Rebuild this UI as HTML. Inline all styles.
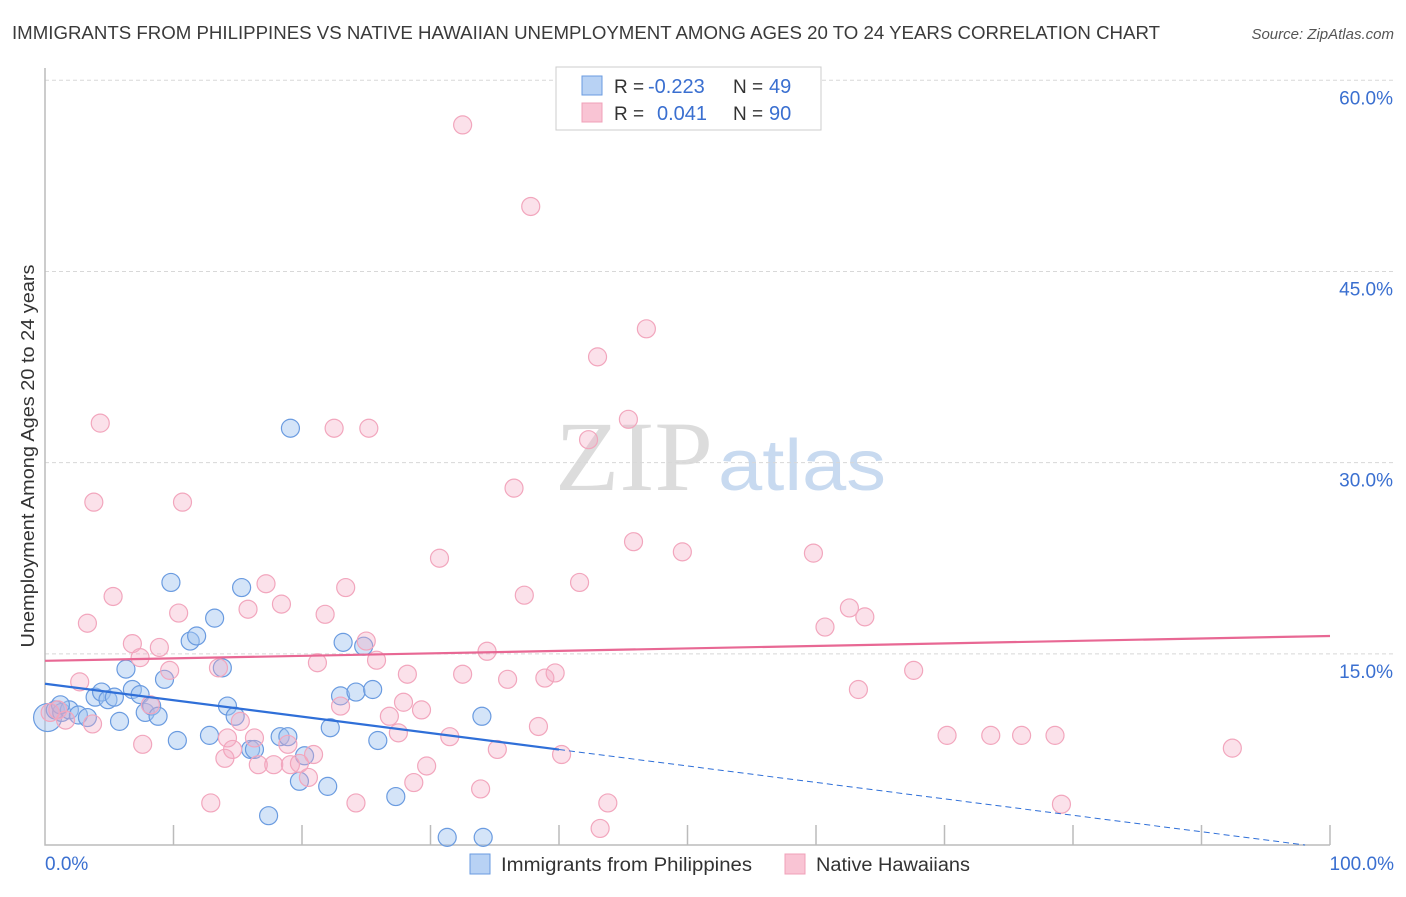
<!DOCTYPE html>
<html><head><meta charset="utf-8"><style>
body{margin:0;background:#fff;font-family:"Liberation Sans",sans-serif;}
svg text{font-family:"Liberation Sans",sans-serif;}
</style></head><body>
<svg id="chart" width="1406" height="892" xmlns="http://www.w3.org/2000/svg">
<text x="12" y="39" font-size="18" fill="#3a3a3a" textLength="1148" lengthAdjust="spacingAndGlyphs">IMMIGRANTS FROM PHILIPPINES VS NATIVE HAWAIIAN UNEMPLOYMENT AMONG AGES 20 TO 24 YEARS CORRELATION CHART</text>
<text x="1394" y="39" font-size="15" fill="#555" text-anchor="end" font-style="italic">Source: ZipAtlas.com</text>
<g>
<text x="555" y="490" font-size="100" fill="#dcdcdc" style="font-family:'Liberation Serif',serif" textLength="158" lengthAdjust="spacingAndGlyphs">ZIP</text>
<text x="718" y="490" font-size="72" fill="#c8daf0" textLength="168" lengthAdjust="spacingAndGlyphs">atlas</text>
</g>
<g id="grid"></g>
<g id="axes"></g>
<g id="pts"></g>
<g id="trend"></g>
<text transform="translate(34,456) rotate(-90)" font-size="18" fill="#333" text-anchor="middle" textLength="383" lengthAdjust="spacingAndGlyphs">Unemployment Among Ages 20 to 24 years</text>
<g>
<rect x="556" y="67" width="265" height="63" fill="#fff" stroke="#ccc"/>
<rect x="582" y="76" width="20" height="19" fill="#b8d2f4" stroke="#6a9be0"/>
<rect x="582" y="103" width="20" height="19" fill="#f9c4d4" stroke="#f0a0b8"/>
<text x="614" y="93" font-size="19" fill="#333">R =</text>
<text x="648" y="93" font-size="20" fill="#3a6fd0">-0.223</text>
<text x="733" y="93" font-size="19" fill="#333">N =</text>
<text x="769" y="93" font-size="20" fill="#3a6fd0">49</text>
<text x="614" y="120" font-size="19" fill="#333">R =</text>
<text x="657" y="120" font-size="20" fill="#3a6fd0">0.041</text>
<text x="733" y="120" font-size="19" fill="#333">N =</text>
<text x="769" y="120" font-size="20" fill="#3a6fd0">90</text>
</g>
<g>
<rect x="470" y="854" width="20" height="20" fill="#b8d2f4" stroke="#6a9be0"/>
<text x="501" y="871" font-size="19" fill="#333" textLength="251" lengthAdjust="spacingAndGlyphs">Immigrants from Philippines</text>
<rect x="785" y="854" width="20" height="20" fill="#f9c4d4" stroke="#f0a0b8"/>
<text x="816" y="871" font-size="19" fill="#333" textLength="154" lengthAdjust="spacingAndGlyphs">Native Hawaiians</text>
</g>
</svg>
<script>
const yTicks=[15,30,45,60];
const yTickLabels=["15.0%","30.0%","45.0%","60.0%"];
const xTickLabels=["0.0%","100.0%"];
const blueX=[0.2,0.8,1.3,1.9,2.6,3.3,3.9,4.4,4.9,5.4,5.8,6.3,6.8,7.4,7.8,8.3,8.8,9.3,9.8,10.3,11.3,11.8,12.8,13.2,13.8,14.2,14.8,15.3,16.0,16.3,17.4,18.3,18.9,19.1,19.8,20.2,22.0,23.0,23.2,24.2,24.8,25.5,25.9,27.3,31.3,34.1,34.0,22.2,1.2];
const blueY=[10.0,10.6,10.4,10.6,10.2,10.0,11.6,12.0,11.4,11.6,9.7,13.8,12.2,11.8,10.4,10.9,10.1,13.0,20.6,8.2,16.0,16.4,8.6,17.8,13.9,10.9,10.1,20.2,7.5,7.5,2.3,8.5,8.5,32.7,5.0,7.0,4.6,11.7,15.9,12.0,15.6,12.2,8.2,3.8,0.6,0.6,10.1,9.2,11.0];
const pinkX=[0.4,1.0,1.6,2.7,3.3,3.7,4.3,3.8,5.3,6.8,7.4,7.6,8.2,8.9,9.7,10.4,10.7,12.9,13.5,14.0,14.2,14.6,15.2,15.8,16.3,16.6,17.2,17.8,18.4,18.9,19.1,19.8,20.5,20.9,21.2,21.8,22.5,23.0,23.4,24.2,25.0,25.2,25.8,26.8,27.5,27.9,28.2,28.7,29.3,29.7,30.7,31.5,32.5,32.5,33.9,34.4,35.2,36.0,36.5,37.3,37.8,38.4,38.9,39.7,40.2,41.6,42.3,43.0,43.2,43.8,45.4,45.8,46.8,49.6,59.8,60.7,62.6,63.3,63.8,67.6,70.2,73.6,76.0,78.6,79.1,92.4];
const pinkY=[10.4,10.6,9.8,12.8,17.4,9.5,33.1,26.9,19.5,15.8,14.7,7.9,11.0,15.5,13.7,18.2,26.9,3.3,13.9,6.8,8.4,7.5,9.7,18.5,8.4,6.3,20.5,6.3,18.9,7.9,6.3,6.4,5.3,7.1,14.3,18.1,32.7,10.9,20.2,3.3,16.0,32.7,14.5,10.1,8.8,11.2,13.4,4.9,10.6,6.2,22.5,8.5,56.5,13.4,4.4,15.2,7.5,13.0,28.0,19.6,50.1,9.3,13.1,13.5,7.1,20.6,31.8,38.3,1.3,3.3,33.4,23.8,40.5,23.0,22.9,17.1,18.6,12.2,17.9,13.7,8.6,8.6,8.6,8.6,3.2,7.6];
const blueTrend=[12.65,-0.129];
const pinkTrend=[14.45,0.0195];
const NS="http://www.w3.org/2000/svg";
const X=v=>45+v*12.85, Y=v=>845-v*12.745;
function mk(t,a,p){const e=document.createElementNS(NS,t);for(const k in a)e.setAttribute(k,a[k]);p.appendChild(e);return e;}
const grid=document.getElementById('grid'),axes=document.getElementById('axes');
yTicks.forEach((t,i)=>{
 const l=mk('line',{x1:45,x2:1394,y1:Y(t),y2:Y(t),stroke:'#d8d8d8','stroke-dasharray':'4,3'},grid);
 
 
 const tx=mk('text',{x:1393,y:Y(t)+24,'font-size':19,fill:'#3a6fd0','text-anchor':'end'},axes);
 tx.textContent=yTickLabels[i];
 
 
});
const ax=mk('path',{d:`M45,68 L45,845 L1330,845`,stroke:'#bbb',fill:'none','stroke-width':1.5},axes);


for(let i=1;i<=10;i++){
 const t=mk('line',{x1:X(i*10),x2:X(i*10),y1:825,y2:845,stroke:'#bbb','stroke-width':1.5},axes);
 
 
}
[[0,'start',45],[100,'end',1394]].forEach((d,i)=>{
 const t=mk('text',{x:d[2],y:870,'font-size':19,fill:'#3a6fd0','text-anchor':d[1]},axes);
 t.textContent=xTickLabels[i];
 
 
});
const pts=document.getElementById('pts');
blueX.forEach((x,i)=>{
 const c=mk('circle',{cx:X(x),cy:Y(blueY[i]),r:i==0?14:9,fill:'rgba(160,196,240,0.45)',stroke:'#6a9be0','stroke-width':1.2},pts);
 
 
});
pinkX.forEach((x,i)=>{
 const c=mk('circle',{cx:X(x),cy:Y(pinkY[i]),r:9,fill:'rgba(244,170,195,0.35)',stroke:'#f2a6bd','stroke-width':1.2},pts);
 
 
});
const tr=document.getElementById('trend');
const bf=x=>blueTrend[0]+blueTrend[1]*x, pf=x=>pinkTrend[0]+pinkTrend[1]*x;
const pl=mk('line',{x1:X(0),y1:Y(pf(0)),x2:X(100),y2:Y(pf(100)),stroke:'#e86894','stroke-width':2.2},tr);


const bl=mk('line',{x1:X(0),y1:Y(bf(0)),x2:X(40),y2:Y(bf(40)),stroke:'#2f6fd8','stroke-width':2.2},tr);


const xe=-blueTrend[0]/blueTrend[1];
const bd=mk('line',{x1:X(40),y1:Y(bf(40)),x2:X(xe),y2:Y(0),stroke:'#2f6fd8','stroke-width':1,'stroke-dasharray':'6,4'},tr);


</script>
</body></html>
